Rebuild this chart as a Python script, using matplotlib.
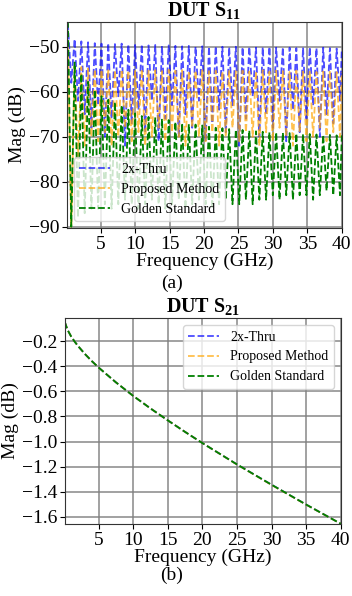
import numpy as np
import matplotlib
matplotlib.use("Agg")
import matplotlib.pyplot as plt

# -----------------------------------------------------------
# DATA
# -----------------------------------------------------------
# S11 ripple: one peak and one null per cycle, cycles ~0.975 GHz apart
f_start = 0.25
period = 0.975
labels = ["2x-Thru", "Proposed Method", "Golden Standard"]

thru_peak = [-45.0, -48.3, -48.8, -49.0, -49.2, -49.3, -49.2, -49.4, -49.3, -49.5,
             -49.6, -49.5, -49.7, -49.6, -49.8, -49.7, -49.8, -49.9, -49.8, -50.0,
             -49.9, -50.0, -49.9, -50.0, -50.1, -50.0, -50.1, -50.0, -50.2, -50.1,
             -50.0, -50.2, -50.1, -50.2, -50.3, -50.2, -50.1, -50.3, -50.2, -50.3, -50.4]
thru_null = [-58, -62, -65, -68, -63, -70, -66, -61, -72, -67,
             -64, -69, -62, -71, -66, -63, -70, -65, -68, -62,
             -71, -67, -64, -69, -63, -72, -66, -61, -70, -65,
             -68, -62, -71, -64, -69, -66, -63, -70, -65, -67, -62]

prop_peak = [-50.0, -54.0, -54.5, -54.8, -55.0, -55.1, -55.0, -55.2, -55.1, -55.3,
             -55.2, -55.0, -55.3, -55.2, -55.4, -55.1, -55.3, -55.2, -55.4, -55.3,
             -55.2, -55.4, -55.3, -55.5, -55.2, -55.4, -55.3, -55.5, -55.4, -55.2,
             -55.5, -55.3, -55.4, -55.6, -55.3, -55.5, -55.4, -55.6, -55.5, -55.3, -55.6]
prop_null = [-91, -75, -72, -70, -71, -69, -72, -70, -68, -71,
             -69, -72, -70, -68, -71, -69, -70, -72, -68, -70,
             -71, -69, -72, -70, -68, -71, -69, -70, -72, -69,
             -71, -68, -70, -72, -69, -71, -70, -68, -71, -69, -70]

gold_peak = [-44.5, -53.5, -56.0, -57.8, -59.6, -61.0, -61.8, -62.3, -63.0, -64.0,
             -64.8, -65.4, -65.6, -65.7, -66.0, -66.3, -66.7, -67.0, -67.2, -67.3,
             -67.5, -67.8, -68.0, -68.1, -68.3, -68.4, -68.5, -68.6, -68.8, -68.9,
             -69.0, -69.0, -69.1, -69.2, -69.3, -69.4, -69.4, -69.5, -69.6, -69.6, -69.7]
gold_null = [-90, -88, -87, -86, -86, -85, -86, -85, -84, -85,
             -86, -85, -84, -85, -86, -85, -84, -86, -85, -84,
             -85, -86, -85, -84, -85, -85, -84, -85, -84, -84,
             -83, -84, -83, -84, -83, -83, -84, -83, -82, -83, -83]

# S21 (nearly identical for all three)
s21_f = [0.1, 0.5, 1.0, 1.5, 2.0, 3.0, 4.0, 5.0, 7.5, 10, 12.5, 15, 17.5, 20,
         25, 30, 35, 40]
s21_thru = [-0.046, -0.109, -0.160, -0.201, -0.237, -0.301, -0.358, -0.410,
            -0.528, -0.636, -0.736, -0.831, -0.923, -1.012, -1.182, -1.344,
            -1.502, -1.655]
s21_prop = [-0.046, -0.109, -0.160, -0.201, -0.237, -0.301, -0.358, -0.410,
            -0.528, -0.636, -0.736, -0.831, -0.923, -1.012, -1.183, -1.346,
            -1.503, -1.655]
s21_gold = [-0.046, -0.109, -0.160, -0.201, -0.237, -0.301, -0.358, -0.410,
            -0.528, -0.636, -0.736, -0.831, -0.923, -1.012, -1.182, -1.344,
            -1.502, -1.655]


def ripple(peaks, nulls):
    n = len(peaks)
    f_pk = f_start + period * np.arange(n)
    x = np.empty(2 * n)
    y = np.empty(2 * n)
    x[0::2] = f_pk
    x[1::2] = f_pk + period / 2
    y[0::2] = peaks
    y[1::2] = nulls
    x = np.concatenate([[0.1], x, [40.0]])
    y = np.concatenate([[peaks[0]], y, [peaks[-1]]])
    return x, y


# -----------------------------------------------------------
# STYLE
# -----------------------------------------------------------
plt.rcParams["font.family"] = ["Liberation Serif", "DejaVu Serif"]
plt.rcParams["mathtext.fontset"] = "custom"
plt.rcParams["mathtext.rm"] = "Liberation Serif"
plt.rcParams["mathtext.bf"] = "Liberation Serif:bold"
plt.rcParams["font.size"] = 14

colors = ["blue", "orange", "green"]
alphas = [0.7, 0.7, 1.0]

fig = plt.figure(figsize=(3.52, 5.96), dpi=100)
ax1 = fig.add_axes([0.190, 0.6174, 0.781, 0.3456])
ax2 = fig.add_axes([0.184, 0.1208, 0.784, 0.3456])

# -----------------------------------------------------------
# (a) S11
# -----------------------------------------------------------
for (pk, nl), c, a, lab in zip([(thru_peak, thru_null), (prop_peak, prop_null),
                                 (gold_peak, gold_null)], colors, alphas, labels):
    x, y = ripple(pk, nl)
    ax1.plot(x, y, "--", color=c, alpha=a, lw=1.3, label=lab)

ax1.set_xlim(0.1, 40)
ax1.set_ylim(-90.3, -44.5)
ax1.set_xticks([5, 10, 15, 20, 25, 30, 35, 40])
ax1.set_yticks([-50, -60, -70, -80, -90])
ax1.set_xlabel("Frequency (GHz)", labelpad=0)
ax1.set_ylabel("Mag (dB)", labelpad=2)
ax1.set_title(r"DUT $\mathbf{S}_{\mathbf{11}}$", fontweight="bold", fontsize=14.5, pad=2)
ax1.legend(loc="lower left", fontsize=10, handlelength=2.2)

# -----------------------------------------------------------
# (b) S21
# -----------------------------------------------------------
for s, c, a, lab in zip([s21_thru, s21_prop, s21_gold], colors, alphas, labels):
    ax2.plot(s21_f, s, "--", color=c, alpha=a, lw=1.3, label=lab)

ax2.set_xlim(0.1, 40)
ax2.set_ylim(-1.657, -0.015)
ax2.set_xticks([5, 10, 15, 20, 25, 30, 35, 40])
ax2.set_yticks([-0.2, -0.4, -0.6, -0.8, -1.0, -1.2, -1.4, -1.6])
ax2.set_xlabel("Frequency (GHz)", labelpad=0)
ax2.set_ylabel("Mag (dB)", labelpad=2)
ax2.set_title(r"DUT $\mathbf{S}_{\mathbf{21}}$", fontweight="bold", fontsize=14.5, pad=2)
ax2.legend(loc="upper right", fontsize=10, handlelength=2.2)

for ax in (ax1, ax2):
    ax.grid(True, color="gray", lw=1.3, alpha=0.8)
    ax.tick_params(length=3.5, pad=2)
    for sp in ax.spines.values():
        sp.set_color("#333333")

fig.text(0.489, 0.525, "(a)", ha="center", va="center", fontsize=14)
fig.text(0.486, 0.035, "(b)", ha="center", va="center", fontsize=14)

fig.savefig("out.png", dpi=100)
